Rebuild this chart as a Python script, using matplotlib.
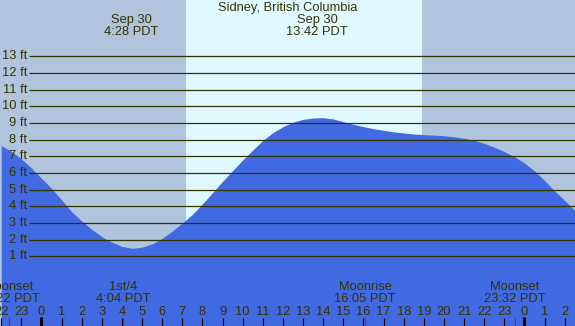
import matplotlib
matplotlib.use("Agg")
import matplotlib.pyplot as plt
import matplotlib.transforms as mtransforms

# tide heights (ft), sampled every half hour from 22:00 the day before
hours = [-2.0, -1.5, -1.0, -0.5, 0.0, 0.5, 1.0, 1.5, 2.0, 2.5, 3.0, 3.5, 4.0, 4.5,
         5.0, 5.5, 6.0, 6.5, 7.0, 7.5, 8.0, 8.5, 9.0, 9.5, 10.0, 10.5, 11.0, 11.5,
         12.0, 12.5, 13.0, 13.5, 14.0, 14.5, 15.0, 15.5, 16.0, 16.5, 17.0, 17.5,
         18.0, 18.5, 19.0, 19.5, 20.0, 20.5, 21.0, 21.5, 22.0, 22.5, 23.0, 23.5,
         24.0, 24.5, 25.0, 25.5, 26.0, 26.5]
heights = [7.65, 7.30, 6.85, 6.30, 5.68, 5.08, 4.38, 3.68, 3.12, 2.62, 2.18, 1.85,
           1.60, 1.48, 1.55, 1.75, 2.08, 2.52, 3.00, 3.52, 4.15, 4.82, 5.50, 6.15,
           6.78, 7.38, 7.96, 8.42, 8.78, 9.05, 9.22, 9.30, 9.32, 9.24, 9.08, 8.92,
           8.78, 8.66, 8.56, 8.47, 8.40, 8.34, 8.30, 8.27, 8.23, 8.17, 8.08, 7.96,
           7.78, 7.55, 7.28, 6.98, 6.60, 6.12, 5.55, 4.92, 4.35, 3.75]

ft_levels = [1, 2, 3, 4, 5, 6, 7, 8, 9, 10, 11, 12, 13]
hour_ticks = [-2, -1, 0, 1, 2, 3, 4, 5, 6, 7, 8, 9, 10, 11, 12, 13, 14, 15, 16,
              17, 18, 19, 20, 21, 22, 23, 24, 25, 26]
midnights = [0, 24]

sunrise, sunset = 7.165, 18.907

# tide extremes
tide_times = [4 + 28 / 60, 13 + 42 / 60]
tide_labels = ["Sep 30\n4:28 PDT", "Sep 30\n13:42 PDT"]

# moon events
moon_times = [-2 + 22 / 60, 4 + 4 / 60, 16 + 5 / 60, 23 + 32 / 60]
moon_labels = ["Moonset\n22:22 PDT", "1st/4\n4:04 PDT", "Moonrise\n16:05 PDT",
               "Moonset\n23:32 PDT"]

title = "Sidney, British Columbia"

W, H = 575, 326
night = "#B0C4DE"
day = "#E0F8FF"
water = "#4169E1"
ink = "#333300"
fs = 9.3

plt.rcParams["font.family"] = ["Liberation Sans", "DejaVu Sans"]

fig = plt.figure(figsize=(W / 100, H / 100), dpi=100)
ax = fig.add_axes([0, 0, 1, 1])
ax.set_xlim(-2.062, 26.51)
ax.set_ylim(-3.18, 16.38)
ax.axis("off")
ax.add_patch(plt.Rectangle((0, 0), 1, 1, transform=ax.transAxes, color=night, zorder=0))

ax.axvspan(sunrise, sunset, color=day, zorder=1, lw=0)
ax.fill_between(hours, -3.18, heights, color=water, lw=0, zorder=2)

# x in data, y in pixels from the top
tr = mtransforms.blended_transform_factory(ax.transData, ax.transAxes)


def ypix(p):
    return 1 - p / H


ax.hlines(ft_levels, -0.62, 26.51, colors=ink, lw=0.9, zorder=3)
for f in ft_levels:
    ax.text(-0.72, f, f"{f} ft", ha="right", va="center", fontsize=fs,
            color=ink, zorder=4)

ax.text(0.5, ypix(8), title, transform=ax.transAxes, ha="center", va="center",
        fontsize=fs, color=ink)
for t, lab in zip(tide_times, tide_labels):
    ax.text(t, ypix(26), lab, transform=tr, ha="center", va="center",
            fontsize=fs, color=ink, linespacing=0.95)

for t, lab in zip(moon_times, moon_labels):
    ax.text(t, ypix(293), lab, transform=tr, ha="center", va="center",
            fontsize=fs, color=ink, linespacing=0.95)

for h in hour_ticks:
    ax.text(h, ypix(312), str(h % 24), transform=tr, ha="center", va="center",
            fontsize=fs, color=ink)

ax.vlines(hour_ticks, ypix(326), ypix(318), transform=tr, colors="black", lw=0.8)
ax.vlines(midnights, ypix(326), ypix(317), transform=tr, colors="black", lw=2.2)
ax.vlines(moon_times, ypix(326), ypix(317), transform=tr, colors="red", lw=0.8)

fig.savefig("out.png", dpi=100)
